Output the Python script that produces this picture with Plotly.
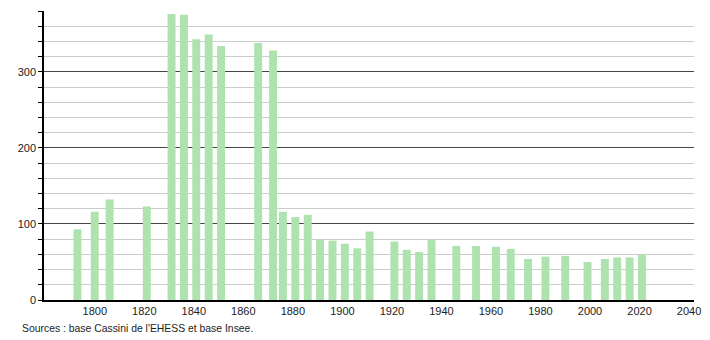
import plotly.graph_objects as go

years = [1793, 1800, 1806, 1821, 1831, 1836, 1841, 1846, 1851, 1866, 1872, 1876, 1881,
         1886, 1891, 1896, 1901, 1906, 1911, 1921, 1926, 1931, 1936, 1946, 1954, 1962,
         1968, 1975, 1982, 1990, 1999, 2006, 2011, 2016, 2021]
population = [93, 116, 132, 123, 376, 375, 343, 349, 334, 338, 328, 116, 109,
              112, 80, 78, 74, 68, 90, 77, 66, 63, 80, 71, 71, 70,
              67, 54, 57, 58, 50, 54, 56, 56, 60]
x_ticks = [1800, 1820, 1840, 1860, 1880, 1900, 1920, 1940, 1960, 1980, 2000, 2020, 2040]
y_ticks = [0, 100, 200, 300]
source_text = "Sources : base Cassini de l'EHESS et base Insee."

fig = go.Figure()
fig.add_trace(go.Bar(
    x=years, y=population, width=3.2,
    marker=dict(color="rgb(174,226,174)", line=dict(width=0)),
    hoverinfo="x+y",
))

fig.update_layout(
    width=710, height=340,
    margin=dict(l=44, r=9, t=11, b=40),
    paper_bgcolor="white", plot_bgcolor="white",
    showlegend=False,
    font=dict(family="Liberation Sans, Arial, sans-serif", size=11, color="#222"),
    xaxis=dict(
        range=[1779.5, 2042], tickvals=x_ticks, showgrid=False, zeroline=False,
        showline=True, linecolor="black", linewidth=1.5, ticks="",
        tickfont=dict(size=11, color="#222"),
    ),
    yaxis=dict(
        range=[0, 380], tickvals=y_ticks, showgrid=True, gridcolor="#444", gridwidth=1,
        zeroline=False, showline=True, linecolor="black", linewidth=1.5,
        ticks="outside", ticklen=4, tickcolor="black",
        tickfont=dict(size=11, color="#222"),
        minor=dict(dtick=20, showgrid=True, gridcolor="#cccccc", gridwidth=1,
                   ticks="outside", ticklen=4, tickcolor="black"),
    ),
    annotations=[dict(
        text=source_text, xref="paper", yref="paper", x=-24/657, y=-28/289,
        xanchor="left", yanchor="middle", showarrow=False,
        font=dict(size=10.4, color="#222"),
    )],
)
fig.update_xaxes(layer="above traces")
fig.update_yaxes(layer="below traces")

fig.write_html("out.html")
